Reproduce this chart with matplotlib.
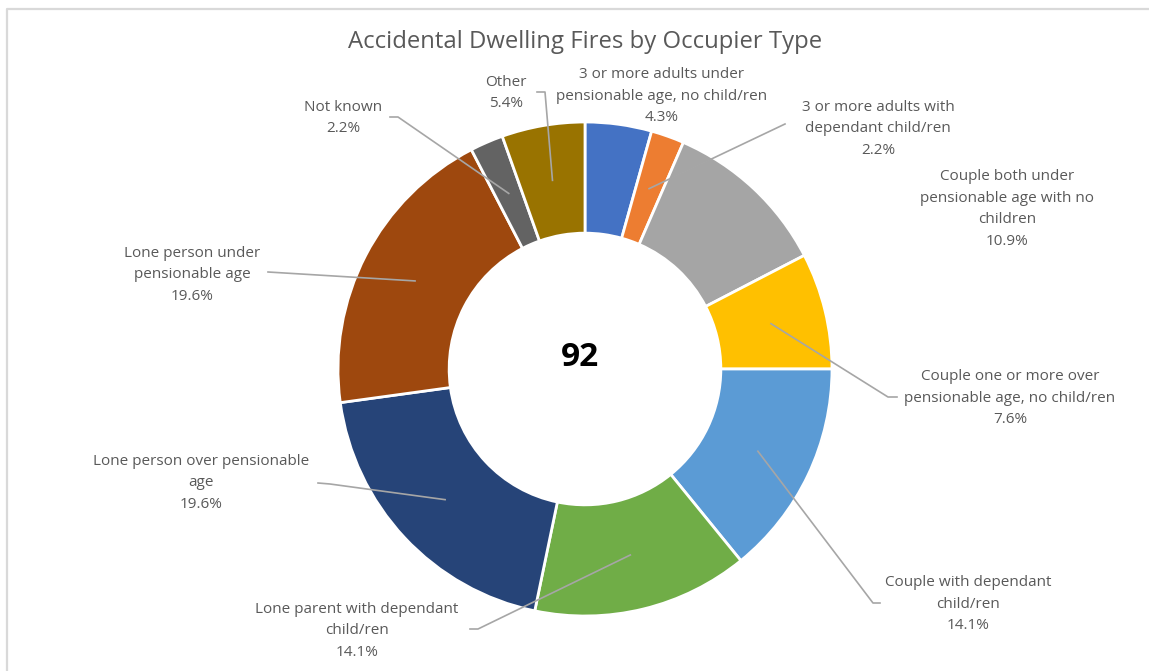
import numpy as np
import matplotlib
matplotlib.use("Agg")
import matplotlib.pyplot as plt

# ---------------- data ----------------
categories = [
    "3 or more adults under\npensionable age, no child/ren",
    "3 or more adults with\ndependant child/ren",
    "Couple both under\npensionable age with no\nchildren",
    "Couple one or more over\npensionable age, no child/ren",
    "Couple with dependant\nchild/ren",
    "Lone parent with dependant\nchild/ren",
    "Lone person over pensionable\nage",
    "Lone person under\npensionable age",
    "Not known",
    "Other",
]
counts = [4, 2, 10, 7, 13, 13, 18, 18, 2, 5]
colors = ["#4472C4", "#ED7D31", "#A5A5A5", "#FFC000", "#5B9BD5",
          "#70AD47", "#264478", "#9E480E", "#636363", "#997300"]
title = "Accidental Dwelling Fires by Occupier Type"
total = sum(counts)

# ---------------- layout (pixels, y measured from top) ----------------
W, H = 1149, 671
cx, cy = 585, 369
R_out = 247
hole = 0.55

# label text centers and optional leader elbow points
label_pos = [(662, 96), (878, 129), (1007, 209), (1010, 398), (968, 604),
             (357, 631), (201, 483), (192, 275), (343, 118), (506, 93)]
leader_elbows = [
    None,
    [(785, 124)],
    None,
    [(888, 397), (897, 397)],
    [(873, 603), (880, 603)],
    [(478, 629), (470, 629)],
    [(330, 484), (318, 483)],
    [(268, 272)],
    [(398, 117), (390, 117)],
    [(545, 92), (537, 92)],
]

fig = plt.figure(figsize=(W / 100, H / 100), dpi=100)
ax = fig.add_axes([0, 0, 1, 1])


def P(x, y):
    return x, H - y


# chart-area border (only top and left visible)
ax.plot([6.5, 6.5, W + 5], [-5, H - 8.5, H - 8.5], color="#D9D9D9", lw=1.6)

wedges, _ = ax.pie(counts, colors=colors, startangle=90, counterclock=False,
                   radius=R_out, center=P(cx, cy), frame=True,
                   wedgeprops=dict(width=R_out * (1 - hole), edgecolor="white",
                                   linewidth=2))
ax.set_xlim(0, W)
ax.set_ylim(0, H)
ax.set_aspect("equal")
ax.axis("off")

text_color = "#595959"
line_color = "#A6A6A6"
r_mid = R_out * (1 + hole) / 2

for i, w in enumerate(wedges):
    pct = counts[i] / total * 100
    txt = f"{categories[i]}\n{pct:.1f}%"
    lx, ly = label_pos[i]
    ax.text(*P(lx, ly), txt, ha="center", va="center", fontsize=11,
            family="Open Sans", color=text_color, linespacing=1.62)
    if leader_elbows[i]:
        ang = np.deg2rad((w.theta1 + w.theta2) / 2)
        sx = w.center[0] + r_mid * np.cos(ang)
        sy = w.center[1] + r_mid * np.sin(ang)
        xs = [sx] + [P(*p)[0] for p in leader_elbows[i]]
        ys = [sy] + [P(*p)[1] for p in leader_elbows[i]]
        ax.plot(xs, ys, color=line_color, lw=1.2, zorder=5)

ax.text(*P(580, 357), str(total), ha="center", va="center", fontsize=24,
        fontweight="bold", family="Open Sans", color="black")

ax.text(*P(585, 42), title, ha="center", va="center", fontsize=17.2,
        family="Open Sans", color=text_color)

fig.savefig("out.png", dpi=100)
